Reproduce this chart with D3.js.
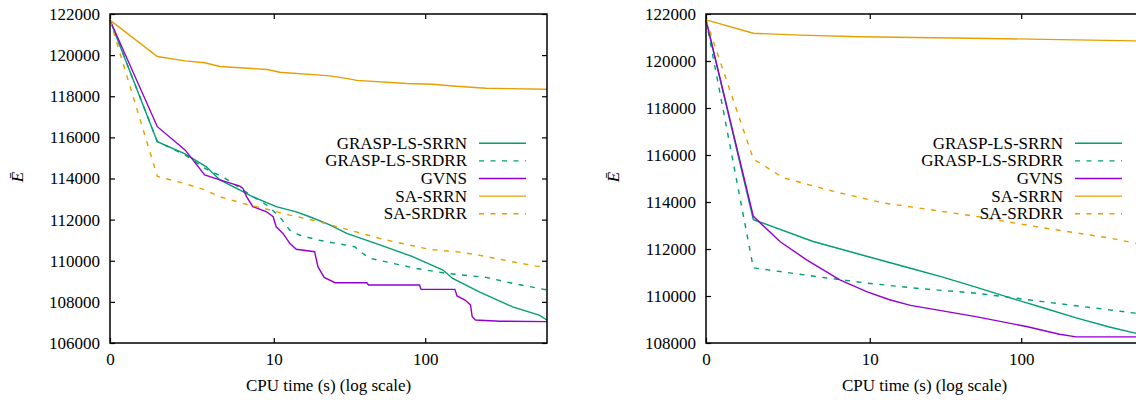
<!DOCTYPE html>
<meta charset="utf-8">
<script src="https://d3js.org/d3.v7.min.js"></script>
<style>
  body { margin: 0; background: #fff; overflow: hidden; }
  svg text { font-family: "Liberation Serif", "Times New Roman", Tinos, "DejaVu Serif", serif !important; font-size: 17px; fill: #000; }
</style>
<div id="dataVis"></div>

<script>
// legend labels, tick values
var seriesNames = ["GRASP-LS-SRRN", "GRASP-LS-SRDRR", "GVNS", "SA-SRRN", "SA-SRDRR"];
var xTicks = [0, 10, 100];
var leftYTicks = [106000, 108000, 110000, 112000, 114000, 116000, 118000, 120000, 122000];
var rightYTicks = [108000, 110000, 112000, 114000, 116000, 118000, 120000, 122000];

// [CPU time (s), mean energy]
var leftGraspSrrn = [[0,121700],[1,115790],[2,115200],[3.1,114570],[4,113930],[6,113360],[7.1,113110],
  [10.4,112630],[14.3,112380],[17.6,112140],[24,111740],[31,111330],[51,110770],[83,110200],
  [130,109550],[150,109140],[222,108490],[362,107760],[535,107360],[600,107120]];
var leftGraspSrdrr = [[0,121700],[1,115790],[2,115150],[3,114500],[4.4,114010],[6,113440],[8.9,112710],
  [11,112140],[12.9,111490],[15,111250],[20,111010],[35,110680],[38,110440],[44,110120],[87,109630],
  [136,109390],[245,109190],[363,108900],[600,108580]];
var leftGvns = [[0,121700],[1,116520],[2,115390],[3,114170],[4,113930],[5.7,113630],[6,113520],[6.4,113110],
  [7.1,112630],[8.9,112380],[9.9,112140],[10.4,111650],[11.6,111330],[12.9,110850],[14.3,110560],
  [19,110440],[20,109710],[22,109190],[26,108930],[42,108930],[43,108820],[92,108820],[94,108610],
  [155,108610],[160,108290],[180,108090],[195,107850],[200,107280],[210,107120],[300,107060],[600,107040]];
var leftSaSrrn = [[0,121700],[1,119930],[2,119720],[3,119630],[4,119450],[9,119300],[11,119170],[24,118990],
  [33,118830],[36,118770],[76,118620],[112,118580],[150,118500],[245,118390],[600,118340]];
var leftSaSrdrr = [[0,121700],[1,114100],[2,113750],[3,113450],[4,113110],[6,112790],[9.4,112470],
  [12.9,112220],[17.6,112010],[22,111830],[53,111050],[107,110550],[166,110420],[222,110270],
  [362,109950],[512,109740],[600,109680]];

// [CPU time (s), mean energy]
var rightGraspSrrn = [[0,121750],[1,113250],[3.8,112320],[9.5,111690],[18.7,111190],[31,110800],[51,110380],
  [84,109930],[138,109500],[225,109070],[366,108680],[536,108420],[600,108340]];
var rightGraspSrdrr = [[0,121750],[1,111200],[1.43,111120],[4,110830],[9.5,110550],[20.8,110330],[51,110120],
  [138,109760],[366,109410],[536,109270],[600,109230]];
var rightGvns = [[0,121750],[1,113390],[1.95,112320],[3.36,111540],[6.1,110690],[9.5,110190],[13.7,109840],
  [19,109600],[51,109120],[108,108700],[176,108370],[225,108260],[600,108260]];
var rightSaSrrn = [[0,121750],[1,121180],[3,121100],[8.5,121030],[62,120960],[600,120850]];
var rightSaSrdrr = [[0,121750],[1,115830],[2.1,115030],[5.4,114460],[12.4,113960],[19.7,113780],[51,113390],
  [138,112900],[366,112470],[600,112180]];

var colors = ["#009e73", "#009e73", "#9400d3", "#e69f00", "#e69f00"];
var dashes = [null, "5,6.5", null, null, "5,6.5"];
var serif = '"Liberation Serif", "Times New Roman", Tinos, "DejaVu Serif", serif';

var svg = d3.select("#dataVis").append("svg")
  .attr("width", 1136)
  .attr("height", 400)
  .attr("font-family", serif);

function drawPanel(left, yDomain, yTicks, series, labelX) {
  var w = 437, h = 329;
  var g = svg.append("g").attr("transform", "translate(" + left + ",14)");

  // x is log10(1 + t)
  var x = d3.scaleLog().domain([1, 601]).range([0, w]);
  var y = d3.scaleLinear().domain(yDomain).range([h, 0]);

  g.append("g")
    .call(d3.axisLeft(y).tickValues(yTicks).tickSize(-5).tickPadding(10).tickFormat(d3.format("d")));
  g.append("g").attr("transform", "translate(" + w + ",0)")
    .call(d3.axisRight(y).tickValues(yTicks).tickSize(-5).tickFormat(""));
  g.append("g").attr("transform", "translate(0," + h + ")")
    .call(d3.axisBottom(x).tickValues(xTicks.map(t => t + 1)).tickSize(-5).tickPadding(10)
      .tickFormat(d => String(Math.round(d - 1))));
  g.append("g")
    .call(d3.axisTop(x).tickValues(xTicks.map(t => t + 1)).tickSize(-5).tickFormat(""));

  g.selectAll(".domain").remove();
  g.selectAll("g").attr("font-family", serif).attr("font-size", 17);
  g.selectAll(".tick line").attr("stroke", "#000").attr("stroke-width", 1.2);

  var line = d3.line()
    .x(d => x(d[0] + 1))
    .y(d => y(d[1]));

  series.forEach(function(s, i) {
    g.append("path")
      .datum(s)
      .attr("fill", "none")
      .attr("stroke", colors[i])
      .attr("stroke-width", 1.4)
      .attr("stroke-dasharray", dashes[i])
      .attr("d", line);
  });

  g.append("rect")
    .attr("width", w)
    .attr("height", h)
    .attr("fill", "none")
    .attr("stroke", "#000")
    .attr("stroke-width", 1.5);

  // key
  seriesNames.forEach(function(name, i) {
    var ly = 129.3 + i * 17.6;
    g.append("text")
      .attr("x", 357)
      .attr("y", ly)
      .attr("dy", "0.32em")
      .attr("text-anchor", "end")
      .text(name);
    g.append("line")
      .attr("x1", 369).attr("x2", 416)
      .attr("y1", ly).attr("y2", ly)
      .attr("stroke", colors[i])
      .attr("stroke-width", 1.4)
      .attr("stroke-dasharray", dashes[i]);
  });

  svg.append("text")
    .attr("transform", "translate(" + labelX + ",177) rotate(-90)")
    .attr("text-anchor", "middle")
    .attr("dy", "0.32em")
    .style("font-style", "italic")
    .text("\u0112");

  svg.append("text")
    .attr("x", left + w / 2)
    .attr("y", 391)
    .attr("text-anchor", "middle")
    .text("CPU time (s) (log scale)");
}

drawPanel(110, [106000, 122000], leftYTicks,
  [leftGraspSrrn, leftGraspSrdrr, leftGvns, leftSaSrrn, leftSaSrdrr], 18);
drawPanel(706, [108000, 122000], rightYTicks,
  [rightGraspSrrn, rightGraspSrdrr, rightGvns, rightSaSrrn, rightSaSrdrr], 614);
</script>
